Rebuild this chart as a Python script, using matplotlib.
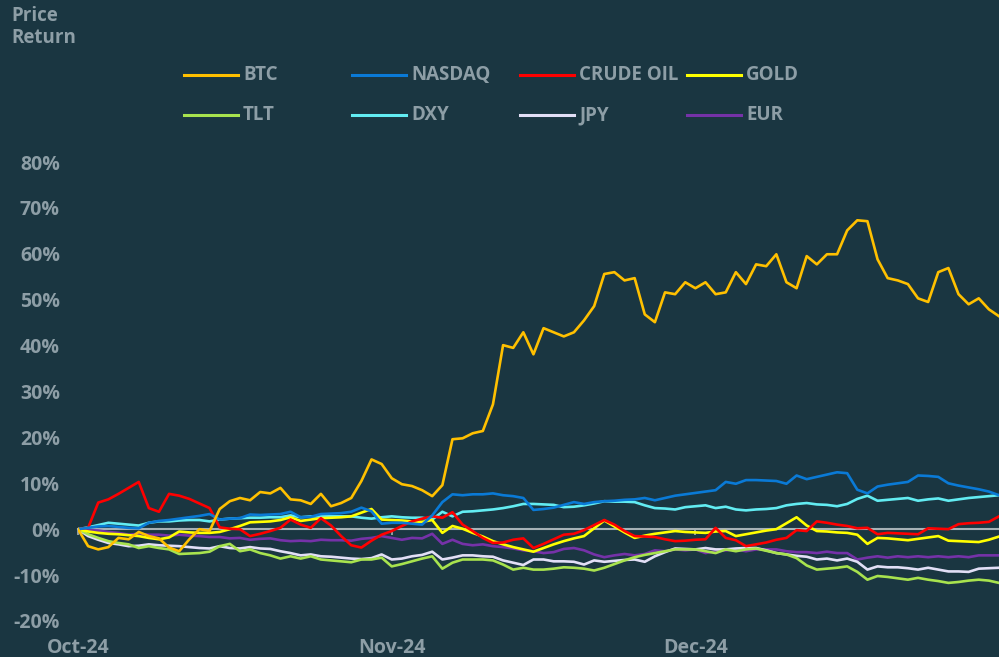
import matplotlib.pyplot as plt
import pandas as pd
from matplotlib.lines import Line2D

# daily price return (%) since 1 Oct 2024
dates = pd.date_range('2024-10-01', '2024-12-31', freq='D')

btc = [0, -3.7, -4.4, -3.9, -1.9, -2.2, -0.6, -1.5, -2.0, -4.0,
       -4.8, -2.2, 0, -0.4, 4.4, 6.1, 6.8, 6.3, 8.1, 7.8,
       9.0, 6.5, 6.3, 5.5, 7.7, 5.0, 5.7, 6.8, 10.5, 15.2,
       14.2, 11.1, 9.8, 9.4, 8.5, 7.2, 9.6, 19.6, 19.8, 20.9,
       21.4, 27.2, 40.1, 39.5, 42.9, 38.1, 43.8, 42.9, 42.0, 42.9,
       45.5, 48.6, 55.6, 56.0, 54.2, 54.7, 46.8, 45.1, 51.6, 51.2,
       53.8, 52.5, 53.8, 51.2, 51.6, 56.0, 53.4, 57.7, 57.3, 59.9,
       53.8, 52.5, 59.5, 57.7, 59.9, 59.9, 65.1, 67.3, 67.1, 58.8,
       54.7, 54.2, 53.4, 50.3, 49.5, 56.0, 56.9, 51.2, 49.0, 50.3,
       47.9, 46.4]

nasdaq = [0, 0.3, 0.6, 0.7, 0.5, 0.3, 0.2, 1.4, 1.8, 2.0,
          2.3, 2.6, 2.9, 3.3, 2.1, 2.3, 2.4, 3.2, 3.1, 3.2,
          3.3, 3.8, 2.6, 2.7, 3.3, 3.4, 3.5, 3.8, 4.7, 3.9,
          1.2, 1.4, 1.4, 1.2, 1.0, 3.0, 5.9, 7.6, 7.4, 7.6,
          7.6, 7.8, 7.4, 7.2, 6.8, 4.2, 4.4, 4.7, 5.3, 5.9,
          5.5, 5.9, 6.1, 6.2, 6.4, 6.5, 6.8, 6.3, 6.8, 7.3,
          7.6, 7.9, 8.2, 8.5, 10.3, 9.9, 10.7, 10.7, 10.6, 10.5,
          9.9, 11.7, 10.9, 11.4, 11.9, 12.4, 12.2, 8.6, 7.8, 9.3,
          9.7, 10.0, 10.3, 11.7, 11.6, 11.4, 10.0, 9.5, 9.1, 8.7,
          8.2, 7.4]

crude = [0, 0.3, 5.8, 6.5, 7.7, 9.0, 10.3, 4.6, 3.8, 7.7,
         7.3, 6.6, 5.6, 4.6, 0.4, 0.1, 0, -1.5, -1.0, -0.4,
         0.3, 2.1, 1.0, 0.3, 2.4, 0.8, -1.5, -3.5, -4.0, -2.5,
         -1.2, -0.4, 0.7, 1.7, 2.3, 2.8, 2.5, 3.7, 1.0, -0.4,
         -1.9, -3.0, -2.9, -2.3, -2.0, -4.1, -3.2, -2.2, -1.2, -1.0,
         -0.2, 0.9, 2.0, 1.0, -0.4, -1.5, -1.6, -1.7, -2.2, -2.6,
         -2.5, -2.3, -2.2, 0.3, -1.9, -2.4, -3.7, -3.3, -2.9, -2.3,
         -1.9, -0.2, -0.4, 1.7, 1.4, 1.0, 0.7, 0.2, 0.3, -1.1,
         -0.8, -0.9, -1.0, -1.1, 0.2, 0.1, 0.0, 1.1, 1.3, 1.4,
         1.6, 2.8]

gold = [0, -0.5, -0.8, -1.0, -1.1, -1.3, -1.5, -1.9, -2.2, -1.8,
        -0.5, -0.7, -0.8, -0.8, -0.6, 0, 0.7, 1.5, 1.6, 1.7,
        2.0, 2.6, 1.8, 2.1, 2.4, 2.5, 2.6, 2.8, 3.6, 4.4,
        2.1, 2.0, 1.9, 1.7, 1.6, 2.0, -0.8, 0.7, 0.1, -0.8,
        -1.6, -2.6, -3.3, -3.9, -4.4, -4.9, -4.1, -3.3, -2.6, -2.0,
        -1.5, 0.2, 1.9, 0.6, -0.7, -1.9, -1.4, -1.0, -0.7, -0.4,
        -0.6, -0.7, -0.8, -0.5, -0.4, -1.5, -1.1, -0.7, -0.3, 0.0,
        1.3, 2.6, 0.8, -0.4, -0.5, -0.7, -0.8, -1.2, -3.2, -1.9,
        -2.0, -2.2, -2.4, -2.1, -1.8, -1.5, -2.5, -2.6, -2.7, -2.8,
        -2.3, -1.6]

tlt = [0, -1.1, -1.9, -2.6, -3.0, -3.3, -4.1, -3.7, -4.1, -4.4,
       -5.4, -5.3, -5.2, -4.9, -3.7, -3.2, -4.8, -4.4, -5.2, -5.7,
       -6.4, -5.9, -6.4, -5.9, -6.6, -6.8, -7.0, -7.2, -6.6, -6.6,
       -6.2, -8.1, -7.6, -7.0, -6.4, -5.9, -8.6, -7.3, -6.6, -6.6,
       -6.6, -6.8, -7.7, -8.8, -8.4, -8.8, -8.8, -8.6, -8.3, -8.4,
       -8.6, -9.0, -8.4, -7.6, -6.8, -6.1, -5.6, -5.2, -4.8, -4.4,
       -4.4, -4.4, -4.8, -5.2, -4.4, -4.8, -4.4, -4.2, -4.7, -5.2,
       -5.5, -6.3, -7.9, -8.8, -8.6, -8.4, -8.1, -9.3, -11.0, -10.2,
       -10.4, -10.7, -11.0, -10.6, -11.0, -11.3, -11.7, -11.5, -11.2, -11.0,
       -11.2, -11.7]

dxy = [0, 0.4, 0.9, 1.4, 1.2, 1.0, 0.8, 1.4, 1.7, 1.7,
       1.9, 2.0, 2.0, 1.7, 2.1, 2.3, 2.4, 2.5, 2.5, 2.6,
       2.6, 3.0, 2.6, 2.8, 2.8, 2.8, 2.8, 2.8, 2.5, 2.3,
       2.6, 2.8, 2.6, 2.5, 2.5, 2.1, 3.8, 2.8, 3.8, 3.9,
       4.1, 4.3, 4.6, 5.0, 5.5, 5.5, 5.4, 5.3, 4.8, 4.9,
       5.2, 5.6, 6.1, 6.0, 6.0, 5.9, 5.2, 4.6, 4.5, 4.3,
       4.8, 5.0, 5.2, 4.6, 4.9, 4.3, 4.1, 4.3, 4.4, 4.6,
       5.2, 5.5, 5.7, 5.4, 5.3, 5.0, 5.5, 6.6, 7.3, 6.2,
       6.4, 6.6, 6.8, 6.2, 6.5, 6.7, 6.2, 6.5, 6.8, 7.0,
       7.2, 7.4]

jpy = [0, -1.5, -2.3, -3.0, -3.3, -3.7, -3.6, -3.3, -3.5, -3.6,
       -3.7, -3.9, -4.1, -4.2, -3.7, -4.1, -4.2, -3.9, -4.2, -4.3,
       -4.8, -5.2, -5.7, -5.5, -5.9, -6.0, -6.2, -6.4, -6.5, -6.3,
       -5.5, -6.6, -6.4, -5.9, -5.6, -4.9, -6.6, -6.2, -5.7, -5.7,
       -5.9, -6.0, -6.8, -7.3, -7.8, -6.6, -6.6, -7.0, -7.0, -7.1,
       -7.7, -6.8, -7.1, -6.9, -6.7, -6.6, -7.1, -5.9, -5.0, -4.2,
       -4.3, -4.4, -4.1, -4.4, -4.4, -4.2, -4.1, -4.1, -4.6, -5.2,
       -5.5, -5.8, -6.0, -6.6, -6.4, -6.8, -6.4, -7.1, -8.8, -8.1,
       -8.3, -8.3, -8.5, -8.8, -8.4, -8.8, -9.2, -9.2, -9.3, -8.6,
       -8.5, -8.4]

eur = [0, -0.2, -0.3, -0.6, -0.8, -1.2, -1.0, -1.2, -1.2, -1.4,
       -1.2, -1.4, -1.5, -1.7, -1.7, -2.0, -1.9, -2.3, -2.1, -2.0,
       -2.4, -2.6, -2.5, -2.6, -2.3, -2.4, -2.4, -2.5, -2.1, -1.9,
       -1.5, -1.9, -2.3, -1.9, -2.0, -1.0, -3.2, -2.3, -3.2, -3.5,
       -3.3, -3.7, -3.9, -4.2, -4.6, -4.8, -5.2, -5.0, -4.3, -4.1,
       -4.6, -5.5, -6.1, -5.7, -5.4, -5.7, -5.4, -4.6, -4.8, -4.4,
       -4.6, -4.4, -5.2, -4.8, -4.6, -4.4, -4.8, -4.4, -4.4, -4.4,
       -4.8, -5.0, -5.0, -5.2, -4.9, -5.2, -5.2, -6.6, -6.2, -5.9,
       -6.2, -5.9, -6.1, -5.9, -6.1, -5.9, -6.1, -5.9, -6.1, -5.7,
       -5.7, -5.7]

names = ['BTC', 'NASDAQ', 'CRUDE OIL', 'GOLD', 'TLT', 'DXY', 'JPY', 'EUR']
values = [btc, nasdaq, crude, gold, tlt, dxy, jpy, eur]
colors = ['#ffc000', '#0a7ad6', '#ff0000', '#ffff00',
          '#a8e34e', '#62ecf2', '#e2dff6', '#7532a8']

bg = '#1a3641'
txt = '#8d9ea6'
plt.rcParams['font.family'] = ['Open Sans', 'DejaVu Sans']
plt.rcParams['font.weight'] = 'bold'

fig = plt.figure(figsize=(9.99, 6.57), dpi=100, facecolor=bg)
W, H = 999, 657
ax = fig.add_axes([78 / W, 1 - 621 / H, 921 / W, (621 - 162) / H])
ax.set_facecolor(bg)

# draw in reverse so BTC sits on top
for name, vals, col in reversed(list(zip(names, values, colors))):
    ax.plot(dates, vals, color=col, lw=1.9, label=name)

ax.set_xlim(dates[0], dates[-1])
ax.set_ylim(-20, 80)
yt = list(range(-20, 81, 10))
ax.set_yticks(yt)
ax.set_yticklabels([f'{v}%' for v in yt])
xt = [pd.Timestamp('2024-10-01'), pd.Timestamp('2024-11-01'), pd.Timestamp('2024-12-01')]
ax.set_xticks(xt)
ax.set_xticklabels(['Oct-24', 'Nov-24', 'Dec-24'])

for s in ['top', 'right', 'left']:
    ax.spines[s].set_visible(False)
ax.spines['bottom'].set_position(('data', 0))
ax.spines['bottom'].set_color('#a6b1b6')
ax.spines['bottom'].set_linewidth(1.5)
ax.spines['bottom'].set_zorder(0)

ax.tick_params(axis='y', length=0, pad=13, labelsize=14, labelcolor=txt)
ax.tick_params(axis='x', length=4, width=1.2, color='#a6b1b6', pad=74,
               labelsize=14, labelcolor=txt)

fig.text(11 / W, 1 - 6 / H, 'Price\nReturn', color=txt, fontsize=13.5,
         fontweight='bold', ha='left', va='top', linespacing=1.15)

# legend, 4 columns x 2 rows
col_x = [184, 352, 520, 687]
row_y = [75, 115]
for i, (name, col) in enumerate(zip(names, colors)):
    x0 = col_x[i % 4]
    y0 = row_y[i // 4]
    fig.add_artist(Line2D([x0 / W, (x0 + 54) / W], [1 - y0 / H, 1 - y0 / H],
                          color=col, lw=2.2, transform=fig.transFigure))
    fig.text((x0 + 59) / W, 1 - y0 / H, name, color=txt, fontsize=13.5,
             fontweight='bold', ha='left', va='center')

fig.savefig('out.png', dpi=100, facecolor=bg)
